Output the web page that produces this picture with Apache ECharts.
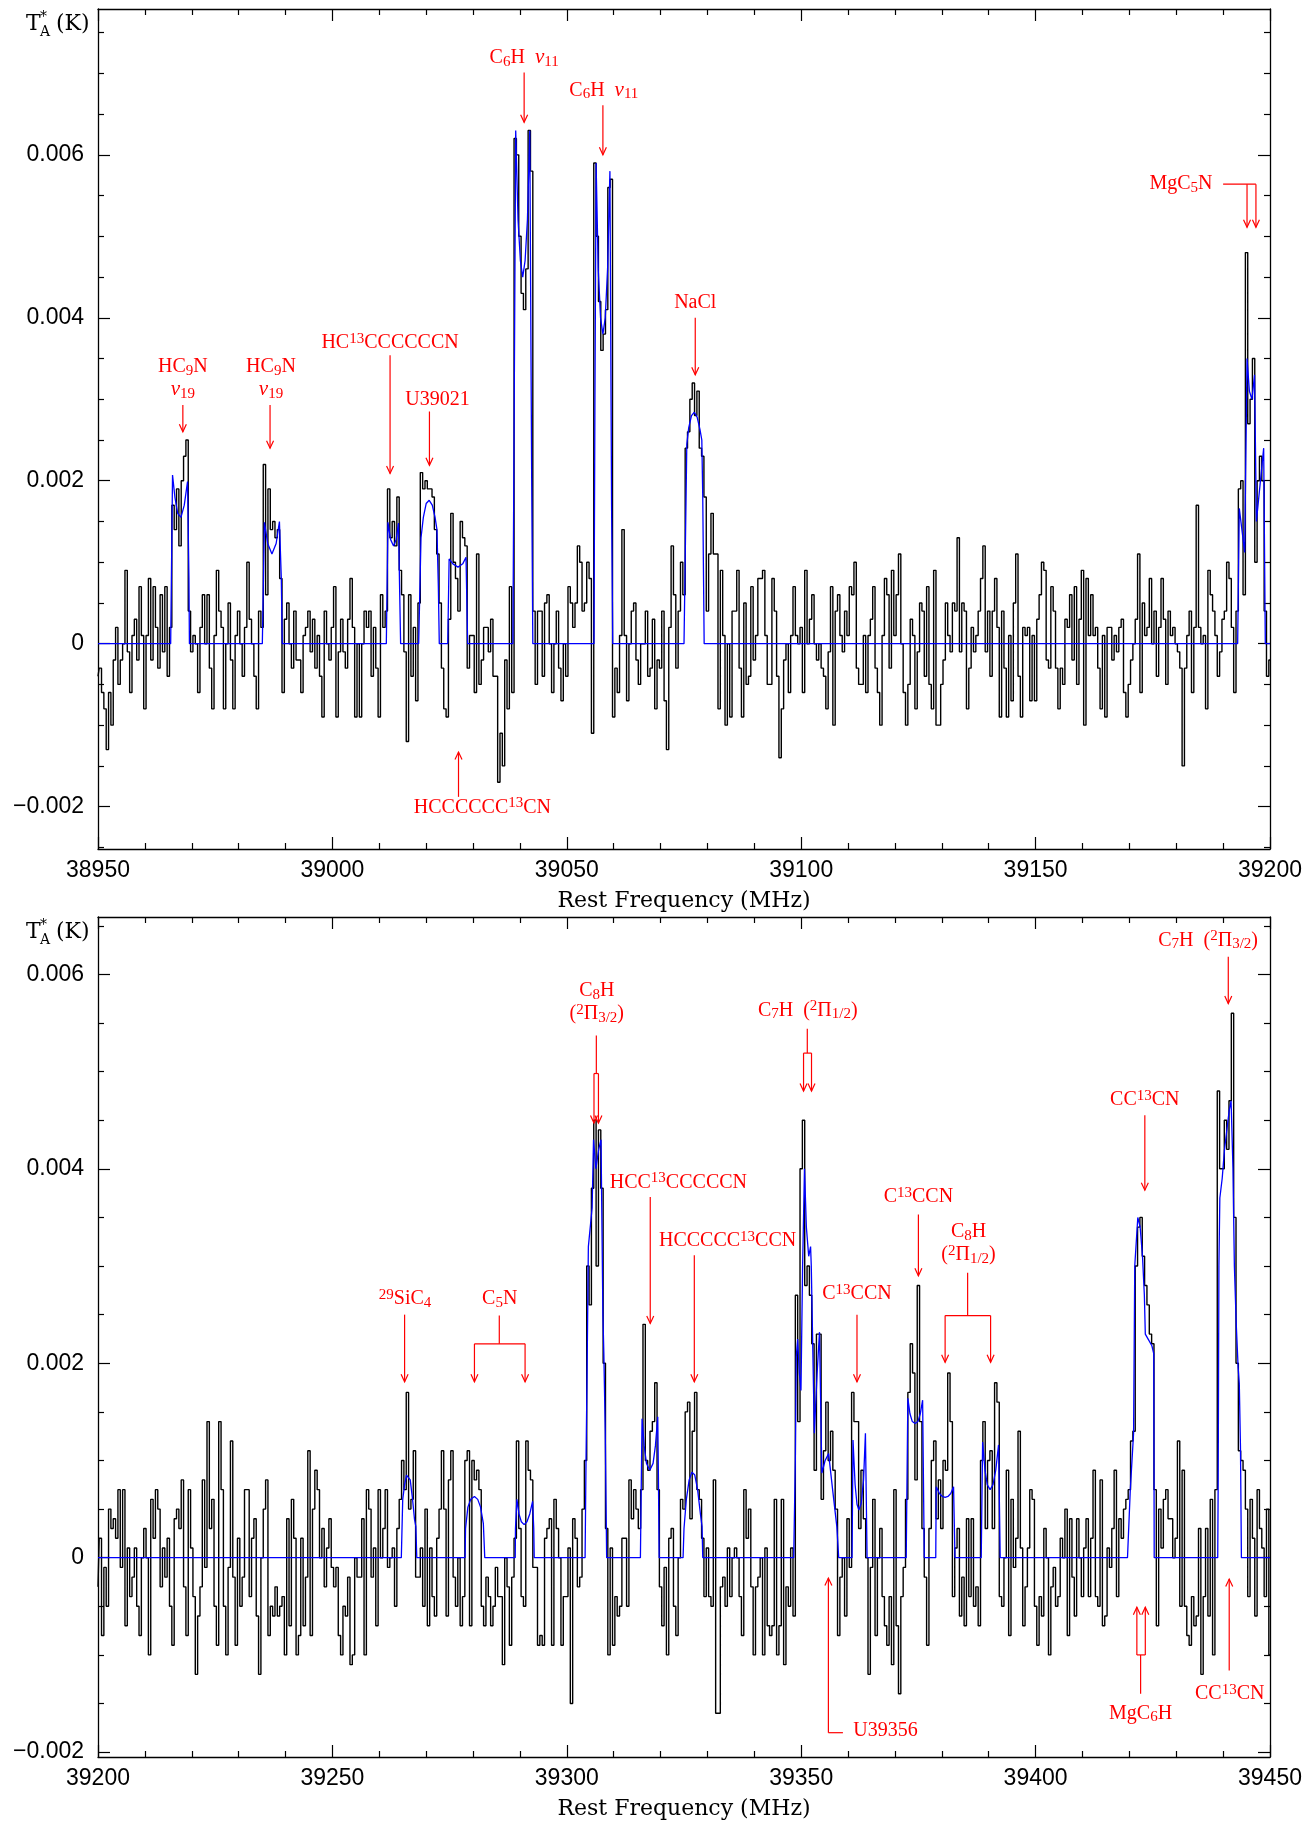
<!DOCTYPE html>
<html>
<head>
<meta charset="utf-8">
<title>Rest frequency spectrum 38950-39450 MHz</title>
<script src="https://cdn.jsdelivr.net/npm/echarts@6/dist/echarts.min.js"></script>
<style>
  html, body { margin: 0; padding: 0; background: #fff; }
  #chart { width: 1314px; height: 1825px; }
</style>
</head>
<body>
<div id="chart"></div>
<script>
// ---- data -------------------------------------------------------------
// observed channels, 0.5 MHz apart, values in units of 0.1 mK
const channelWidth = 0.5;
const topStart = 38950;
const bottomStart = 39200;

const topSpectrum = [
  -4,-3,-6,-8,-13,-6,-10,-2,2,-5,   -2,0,9,-1,-6,1,3,-2,7,1,
  -8,1,8,-2,7,2,-3,6,-1,7,          -4,2,17,14,19,12,20,23,25,4,
  -1,1,0,-6,2,6,0,6,-3,-8,          1,9,4,2,-8,0,5,-2,-8,1,
  4,0,-4,2,10,3,0,-4,-8,4,          2,22,6,19,14,15,13,14,8,-6,
  3,5,0,-3,4,-2,-2,-6,1,2,          4,-1,3,-3,1,-4,-9,4,0,-2,
  2,7,-9,-1,3,-1,-3,3,8,2,          -9,0,-9,0,4,2,4,-4,2,-3,
  -9,6,2,4,19,13,15,12,18,9,        6,-1,-12,6,-4,2,-7,5,21,19,
  20,19,19,18,14,11,5,-3,-8,-9,     3,16,10,8,4,15,13,12,-3,1,
  1,-6,11,-5,-2,2,2,-1,3,-4,        -4,-17,-11,-15,-2,-8,7,-6,62,60,
  50,43,41,46,63,58,4,-5,4,4,       -4,5,6,0,-6,0,4,-3,-7,0,
  -4,7,5,2,5,12,10,4,5,10,          8,-11,59,50,42,36,38,41,56,57,
  -9,-3,-6,1,14,1,-7,0,4,5,         -2,-5,0,0,4,-4,-3,3,-8,-2,
  -3,4,-7,-13,2,12,6,-3,4,10,       6,24,26,30,32,28,31,24,23,18,
  4,11,16,11,11,-8,9,1,-10,0,       -9,4,4,9,-3,-9,5,-5,-4,7,
  -2,1,8,8,9,1,-5,-5,8,4,           -4,-14,-8,-2,0,-6,1,7,1,0,
  2,-6,9,0,3,6,0,-2,0,-3,           -4,-8,-1,7,-10,4,6,1,-1,4,
  1,7,6,10,-3,-5,-5,1,-6,1,         3,7,-3,-6,-10,1,8,6,-3,9,
  1,6,11,0,-6,-10,-5,3,1,-8,        -1,5,4,-4,7,-5,-8,9,-10,-10,
  -5,-2,5,1,-1,5,4,13,-1,5,         4,-8,-3,2,-1,1,4,8,12,-1,
  4,-4,4,8,2,-9,4,-3,-9,1,          -7,5,11,-4,-9,2,1,2,-7,1,
  -7,3,6,10,9,-2,-3,7,4,-3,         -8,-3,-5,3,2,6,-2,7,-5,3,
  9,-10,8,1,6,1,2,-3,-8,1,          -9,2,2,-2,1,-1,2,3,-6,-9,
  -5,-2,0,3,11,-6,5,1,2,8,          0,4,-4,2,8,3,-5,4,1,2,
  0,-1,-3,-15,-3,1,4,-6,2,17,       2,0,1,-8,9,6,4,1,-4,-1,
  3,4,10,8,2,-6,4,19,20,6,          48,27,30,35,10,20,23,20,4,-4,-2
];

const bottomSpectrum = [
  -3,2,-8,-1,-5,5,3,4,2,7,          -1,7,-7,1,-4,-2,1,-5,-8,0,
  3,0,-10,6,2,7,5,-3,1,-2,          2,-5,-9,4,5,3,8,-3,-8,7,
  1,-4,-12,-6,-3,8,-1,14,3,6,       -5,-9,14,7,-5,-10,-1,12,-2,-9,
  2,-5,-2,7,7,-4,2,4,-6,-12,        0,5,8,-8,-5,-6,-3,-6,-5,-4,
  -10,4,-7,6,2,-10,-8,2,-7,-2,      11,-8,5,9,7,0,3,-3,1,4,
  -1,-3,-1,-8,-10,-5,-6,-2,-11,-10, 0,-2,-2,4,-10,7,5,-2,1,-7,
  7,0,3,7,-1,0,1,-5,3,6,            10,7,17,5,6,11,-2,-2,1,-5,
  5,-7,1,-4,-6,2,5,11,5,-6,         8,11,-2,-5,0,-7,-4,10,11,-7,
  10,8,9,7,-5,-7,-2,-4,-7,-5,       -1,-4,-4,-11,0,-3,-9,-2,2,12,
  3,-4,-5,12,9,8,-1,-1,-9,-8,       -9,2,3,4,-9,6,3,0,-9,-4,
  -4,1,-15,4,2,-3,-2,5,10,30,       26,38,45,30,44,38,20,3,-10,1,
  -9,-4,-6,-5,2,2,-5,8,4,7,         5,3,7,24,10,9,13,14,18,7,
  -3,-7,-1,-10,2,3,-5,-8,0,6,       5,15,16,4,13,17,7,6,2,-4,
  1,-4,-5,8,-16,-16,-3,-2,-5,1,     -4,0,1,0,-4,-8,7,2,5,-3,
  -10,-3,-2,0,-10,1,-7,-8,-7,6,     -10,-7,6,-11,-3,-5,1,-6,27,14,
  40,45,28,30,27,22,9,23,23,6,      11,16,10,13,9,5,-8,-2,0,-6,
  4,-1,17,14,14,3,9,4,0,-12,        -1,6,-8,0,3,-4,-7,-9,-4,-11,
  7,-7,-14,-4,-1,6,17,22,19,8,      28,14,3,-2,-9,3,10,12,4,8,
  3,10,9,19,14,-4,1,3,-6,-2,        -7,4,-4,4,-5,-3,-7,10,14,3,
  10,11,3,18,16,-4,-5,0,9,-8,       6,-1,2,13,1,-7,-3,1,7,6,
  -5,-9,-4,-6,3,0,-10,-3,-1,-5,     -4,2,0,5,-8,4,-2,-6,4,0,
  -4,1,4,-4,2,9,-4,-5,8,-7,         -6,1,-1,3,9,-4,4,2,5,6,
  7,12,13,30,34,35,31,28,26,23,     22,7,-7,5,1,6,7,4,4,0,
  2,12,-5,9,-5,-8,-9,-4,-7,-6,      3,-12,-4,3,-6,6,-10,7,48,40,
  40,45,42,47,56,35,20,11,10,9,     5,-4,6,2,-6,7,3,1,-4,5,-10
];

// fitted model (blue), [MHz, K]
const topModel = [
  [38950,0],[38965.5,0],[38965.9,0.00207],[38966.4,0.0018],[38967.0,0.0016],[38967.7,0.00155],
  [38968.4,0.0017],[38969.1,0.00199],[38969.4,0.0008],[38969.5,0],
  [38985.05,0],[38985.5,0.00149],[38986.2,0.00123],[38987.1,0.0011],[38988.0,0.00123],
  [38988.7,0.0015],[38989.1,0.0008],[38989.3,0],
  [39011.5,0],[39011.85,0.00149],[39012.4,0.00128],[39013.05,0.0012],[39013.6,0.00128],
  [39014.1,0.00148],[39014.3,0.0008],[39014.55,0],
  [39018.4,0],[39018.9,0.0013],[39019.4,0.00155],[39020.0,0.00172],[39020.65,0.00176],
  [39021.3,0.0017],[39021.9,0.00155],[39022.3,0.0014],[39022.6,0.0007],[39022.8,0],
  [39024.6,0],[39024.9,0.00104],[39025.7,0.00098],[39026.8,0.00094],[39027.8,0.00098],
  [39028.5,0.00106],[39028.85,0],
  [39038.5,0],[39038.75,0.0026],[39039.1,0.0063],[39039.6,0.0052],[39040.1,0.0047],
  [39040.6,0.0045],[39041.1,0.0047],[39041.6,0.0052],[39042.1,0.0063],[39042.5,0.0021],[39042.75,0],
  [39055.8,0],[39056.0,0.0030],[39056.25,0.0059],[39056.7,0.0046],[39057.2,0.0040],
  [39057.7,0.0038],[39058.2,0.0040],[39058.7,0.0046],[39059.2,0.0058],[39059.55,0.0017],[39059.8,0],
  [39075.0,0],[39075.6,0.00245],[39076.0,0.00265],[39076.6,0.0028],[39077.2,0.00284],
  [39077.8,0.00278],[39078.4,0.00263],[39078.8,0.0025],[39079.0,0.0018],[39079.3,0],
  [39193.1,0],[39193.45,0.00166],[39194.6,0.00112],[39195.1,0.0035],[39195.6,0.0031],
  [39196.15,0.0030],[39196.7,0.0033],[39197.1,0.0015],[39198.65,0.0024],[39199.0,0],[39200,0]
];

const bottomModel = [
  [39200,0],[39264.7,0],[39265.0,0.0006],[39265.4,0.00075],[39265.8,0.00085],[39266.1,0.00087],
  [39266.6,0.0008],[39267.1,0.0006],[39267.5,0.0004],[39267.8,0.00032],[39268.0,0],
  [39278.3,0],[39278.4,0.0003],[39278.9,0.00052],[39279.5,0.0006],[39280.3,0.00063],
  [39281.0,0.0006],[39281.6,0.00052],[39282.2,0.00035],[39282.5,0],
  [39289.0,0],[39289.05,0.0003],[39289.35,0.0006],[39289.8,0.00045],[39290.3,0.00037],
  [39290.9,0.00034],[39291.5,0.00037],[39292.1,0.00045],[39292.7,0.00058],[39292.95,0.0003],[39293.05,0],
  [39303.9,0],[39304.1,0.0010],[39304.3,0.0018],[39304.6,0.0032],[39305.0,0.0032],
  [39305.4,0.0036],[39305.7,0.0043],[39306.2,0.0040],[39306.8,0.0042],[39307.3,0.0043],
  [39307.7,0.0025],[39307.9,0.0021],[39308.2,0.0013],[39308.5,0],
  [39315.7,0],[39316.05,0.00143],[39316.5,0.00115],[39317.0,0.00097],[39317.7,0.0009],
  [39318.4,0.00097],[39318.9,0.00115],[39319.4,0.00145],[39319.55,0.0008],[39319.7,0],
  [39324.8,0],[39325.0,0.0003],[39325.5,0.0006],[39326.1,0.0008],[39326.7,0.00088],
  [39327.3,0.00085],[39327.9,0.0007],[39328.5,0.00045],[39328.85,0.00032],[39329.0,0],
  [39348.4,0],[39348.75,0.0010],[39348.95,0.00207],[39349.25,0.00225],[39349.6,0.0019],
  [39349.95,0.00172],[39350.3,0.0030],[39350.7,0.0040],[39351.1,0.0034],[39351.6,0.0031],
  [39352.0,0.0032],[39352.15,0.0030],[39352.8,0.00128],[39353.4,0.0019],[39353.9,0.00232],
  [39354.4,0.00087],[39355.1,0.0010],[39355.85,0.00107],[39356.7,0.0007],[39357.6,0.00032],[39358.0,0],
  [39360.85,0],[39361.05,0.00121],[39361.5,0.00075],[39361.9,0.00055],[39362.3,0.00049],
  [39362.8,0.00056],[39363.3,0.0008],[39363.7,0.00128],[39364.05,0],
  [39372.4,0],[39372.75,0.00164],[39373.2,0.00148],[39373.7,0.0014],[39374.3,0.00138],
  [39374.9,0.0014],[39375.4,0.00148],[39375.9,0.00162],[39376.25,0],
  [39378.7,0],[39378.8,0.00073],[39379.5,0.00066],[39380.1,0.00063],[39380.7,0.00062],
  [39381.3,0.00063],[39381.9,0.00066],[39382.5,0.00073],[39382.8,0],
  [39388.4,0],[39388.7,0.00119],[39389.2,0.0009],[39389.7,0.00075],[39390.3,0.0007],
  [39390.9,0.00075],[39391.5,0.0009],[39392.1,0.00116],[39392.45,0],
  [39419.6,0],[39420.2,0.0007],[39420.9,0.00128],[39421.15,0.0030],[39421.8,0.0035],
  [39422.3,0.0034],[39422.8,0.0031],[39423.2,0.0027],[39423.4,0.0023],[39424.1,0.00224],
  [39424.8,0.00218],[39425.2,0.0021],[39425.3,0],
  [39438.85,0],[39438.95,0.0008],[39439.1,0.0030],[39439.3,0.0037],[39439.8,0.0039],
  [39440.3,0.0042],[39440.8,0.0044],[39441.3,0.0046],[39441.7,0.0047],[39442.1,0.0040],
  [39442.4,0.0030],[39442.8,0.0024],[39443.2,0.00196],[39443.45,0.00179],[39443.7,0.00114],
  [39443.9,0],[39450,0]
];

// axis ticks
const yMajorTicks = [-0.002, 0, 0.002, 0.004, 0.006];
const topMinorTicks = [-0.0025,-0.0015,-0.001,-0.0005,0.0005,0.001,0.0015,0.0025,0.003,
  0.0035,0.0045,0.005,0.0055,0.0065,0.007,0.0075];
const bottomMinorTicks = [-0.0015,-0.001,-0.0005,0.0005,0.001,0.0015,0.0025,0.003,
  0.0035,0.0045,0.005,0.0055,0.0065];

// line identifications: [text, MHz, K, align]
const topLabels = [
  ['{n|HC}{b|9}{n|N}\n{i|ν}{b|19}', 38968.1, 0.00326],
  ['{n|HC}{b|9}{n|N}\n{i|ν}{b|19}', 38986.9, 0.00326],
  ['{n|HC}{p|13}{n|CCCCCCN}', 39012.3, 0.00369],
  ['{n|U39021}', 39022.4, 0.00299],
  ['{n|HCCCCCC}{p|13}{n|CN}', 39032.0, -0.00201],
  ['{n|C}{b|6}{n|H  }{i|ν}{b|11}', 39040.9, 0.00719],
  ['{n|C}{b|6}{n|H  }{i|ν}{b|11}', 39057.9, 0.00679],
  ['{n|NaCl}', 39077.4, 0.00419],
  ['{n|MgC}{b|5}{n|N}', 39181.0, 0.00564]
];
const topArrows = [
  [[38968.1, 0.00293], [38968.1, 0.0026]],
  [[38986.7, 0.00293], [38986.7, 0.0024]],
  [[39012.3, 0.00354], [39012.3, 0.00209]],
  [[39020.7, 0.00285], [39020.7, 0.00219]],
  [[39026.9, -0.00188], [39026.9, -0.00133]],
  [[39040.9, 0.00701], [39040.9, 0.0064]],
  [[39057.7, 0.00661], [39057.7, 0.0060]],
  [[39077.4, 0.0040], [39077.4, 0.0033]],
  [[39195.1, 0.00564], [39195.1, 0.00511]],
  [[39197.0, 0.00564], [39197.0, 0.00511]]
];
const topLines = [
  [[39190.0, 0.00564], [39197.0, 0.00564]]
];

const bottomLabels = [
  ['{p|29}{n|SiC}{b|4}', 39265.5, 0.00266],
  ['{n|C}{b|5}{n|N}', 39285.7, 0.00266],
  ['{n|C}{b|8}{n|H}\n{n|(}{p|2}{n|Π}{b|3/2}{n|)}', 39306.4, 0.00571],
  ['{n|HCC}{p|13}{n|CCCCCN}', 39323.8, 0.00386],
  ['{n|HCCCCC}{p|13}{n|CCN}', 39334.3, 0.00326],
  ['{n|C}{b|7}{n|H  (}{p|2}{n|Π}{b|1/2}{n|)}', 39351.4, 0.00563],
  ['{n|C}{p|13}{n|CCN}', 39361.9, 0.00271],
  ['{n|C}{p|13}{n|CCN}', 39375.0, 0.00371],
  ['{n|C}{b|8}{n|H}\n{n|(}{p|2}{n|Π}{b|1/2}{n|)}', 39385.7, 0.00323],
  ['{n|CC}{p|13}{n|CN}', 39423.3, 0.00471],
  ['{n|C}{b|7}{n|H  (}{p|2}{n|Π}{b|3/2}{n|)}', 39436.8, 0.00635],
  ['{n|U39356}', 39361.1, -0.00178, 'left'],
  ['{n|MgC}{b|6}{n|H}', 39422.4, -0.0016],
  ['{n|CC}{p|13}{n|CN}', 39441.4, -0.0014]
];
const bottomArrows = [
  [[39265.4, 0.0025], [39265.4, 0.00181]],
  [[39280.3, 0.0022], [39280.3, 0.00181]],
  [[39291.1, 0.0022], [39291.1, 0.00181]],
  [[39305.8, 0.00498], [39305.8, 0.00447]],
  [[39306.75, 0.00498], [39306.75, 0.00447]],
  [[39317.8, 0.00371], [39317.8, 0.00241]],
  [[39327.2, 0.00311], [39327.2, 0.00181]],
  [[39350.5, 0.00519], [39350.5, 0.0048]],
  [[39352.2, 0.00519], [39352.2, 0.0048]],
  [[39361.9, 0.0025], [39361.9, 0.00181]],
  [[39375.0, 0.00353], [39375.0, 0.0029]],
  [[39380.7, 0.00249], [39380.7, 0.00201]],
  [[39390.4, 0.00249], [39390.4, 0.00201]],
  [[39423.3, 0.00455], [39423.3, 0.00378]],
  [[39441.1, 0.00618], [39441.1, 0.0057]],
  [[39355.8, -0.0018], [39355.8, -0.00021]],
  [[39421.6, -0.001], [39421.6, -0.00051]],
  [[39423.4, -0.001], [39423.4, -0.00051]],
  [[39441.3, -0.00116], [39441.3, -0.00022]]
];
const bottomLines = [
  [[39285.6, 0.00249], [39285.6, 0.0022]],
  [[39280.3, 0.0022], [39291.1, 0.0022]],
  [[39306.3, 0.00537], [39306.3, 0.00498]],
  [[39305.8, 0.00498], [39306.75, 0.00498]],
  [[39351.3, 0.00544], [39351.3, 0.00519]],
  [[39350.5, 0.00519], [39352.2, 0.00519]],
  [[39385.5, 0.00293], [39385.5, 0.00249]],
  [[39380.7, 0.00249], [39390.4, 0.00249]],
  [[39358.9, -0.0018], [39355.8, -0.0018]],
  [[39422.4, -0.0014], [39422.4, -0.001]],
  [[39421.6, -0.001], [39423.4, -0.001]]
];

// ---- styling ----------------------------------------------------------
const RED = '#ff0000';
const SERIF = 'Liberation Serif';
const TITLE_FONT = 'DejaVu Serif';
const NUM_FONT = 'Liberation Sans';

const RICH = {
  n: { fontFamily: SERIF, fontSize: 20, lineHeight: 23, fill: RED },
  i: { fontFamily: SERIF, fontSize: 21, lineHeight: 23, fill: RED, fontStyle: 'italic' },
  b: { fontFamily: SERIF, fontSize: 15, lineHeight: 8, fill: RED, verticalAlign: 'bottom' },
  p: { fontFamily: SERIF, fontSize: 15, lineHeight: 8, fill: RED, verticalAlign: 'top' }
};

const grids = [
  { left: 98, top: 9, width: 1172, height: 840 },
  { left: 98, top: 917, width: 1172, height: 840 }
];
const yRanges = [
  { min: -0.00252, max: 0.00779 },
  { min: -0.00205, max: 0.00659 }
];
const xRanges = [
  { min: 38950, max: 39200 },
  { min: 39200, max: 39450 }
];

function formatY(v) {
  if (Math.abs(v) < 1e-9) return '0';
  return (v < 0 ? '\u2212' : '') + Math.abs(v).toFixed(3);
}

function toChannels(start, values) {
  return values.map((v, i) => [start + i * channelWidth, v * 1e-4]);
}

function buildXAxes(g) {
  const base = {
    gridIndex: g,
    type: 'value',
    min: xRanges[g].min,
    max: xRanges[g].max,
    interval: 50,
    splitLine: { show: false },
    axisLine: { show: true, onZero: false, lineStyle: { color: '#000', width: 1.3 } },
    axisTick: { show: true, inside: true, length: 12, lineStyle: { color: '#000', width: 1.2 } },
    minorTick: { show: true, splitNumber: 5, length: 6, lineStyle: { color: '#000', width: 1.2 } }
  };
  return [
    Object.assign({}, base, {
      position: 'bottom',
      name: 'Rest Frequency (MHz)',
      nameLocation: 'middle',
      nameGap: 41,
      nameTextStyle: { fontFamily: TITLE_FONT, fontSize: 22, color: '#000' },
      axisLabel: {
        show: true, margin: 10, showMinLabel: true, showMaxLabel: true,
        fontFamily: NUM_FONT, fontSize: 23, color: '#000',
        formatter: v => String(v)
      }
    }),
    Object.assign({}, base, { position: 'top', axisLabel: { show: false } })
  ];
}

function buildYAxes(g, minorTicks) {
  const base = {
    gridIndex: g,
    type: 'value',
    min: yRanges[g].min,
    max: yRanges[g].max,
    splitLine: { show: false },
    axisLine: { show: false }
  };
  const major = (pos, labels) => Object.assign({}, base, {
    position: pos,
    axisLine: { show: true, onZero: false, lineStyle: { color: '#000', width: 1.3 } },
    axisTick: { show: true, inside: true, length: 12, customValues: yMajorTicks,
      lineStyle: { color: '#000', width: 1.2 } },
    axisLabel: labels ? {
      show: true, margin: 14, customValues: yMajorTicks,
      fontFamily: NUM_FONT, fontSize: 23, color: '#000', formatter: formatY
    } : { show: false }
  });
  const minor = pos => Object.assign({}, base, {
    position: pos,
    axisTick: { show: true, inside: true, length: 6, customValues: minorTicks,
      lineStyle: { color: '#000', width: 1.2 } },
    axisLabel: { show: false }
  });
  return [major('left', true), minor('left'), major('right', false), minor('right')];
}

function annotationSeries(xIdx, yIdx, labels, arrows, lines) {
  return {
    type: 'custom',
    xAxisIndex: xIdx,
    yAxisIndex: yIdx,
    silent: true,
    clip: false,
    z: 10,
    data: [[labels[0][1], labels[0][2]]],
    renderItem: (params, api) => {
      const children = [];
      const stroke = { stroke: RED, lineWidth: 1.2, fill: null };
      lines.forEach(l => {
        children.push({ type: 'polyline', shape: { points: l.map(p => api.coord(p)) }, style: stroke });
      });
      arrows.forEach(a => {
        const p0 = api.coord(a[0]);
        const p1 = api.coord(a[1]);
        const d = p1[1] > p0[1] ? 1 : -1;
        children.push({ type: 'polyline', shape: { points: [p0, p1] }, style: stroke });
        children.push({
          type: 'polyline',
          shape: { points: [[p1[0] - 3.5, p1[1] - d * 7.5], p1, [p1[0] + 3.5, p1[1] - d * 7.5]] },
          style: stroke
        });
      });
      labels.forEach(lb => {
        const p = api.coord([lb[1], lb[2]]);
        children.push({
          type: 'text', x: p[0], y: p[1],
          style: {
            text: lb[0], rich: RICH, fill: RED, fontFamily: SERIF, fontSize: 20,
            align: lb[3] || 'center', verticalAlign: 'middle'
          }
        });
      });
      return { type: 'group', children: children };
    }
  };
}

// T*A (K) title drawn as separate pieces so * and A stack
function yTitle(top) {
  const piece = (text, x, y, size) => ({
    type: 'text', x: x, y: y, silent: true,
    style: { text: text, fill: '#000', fontFamily: TITLE_FONT, fontSize: size, verticalAlign: 'middle' }
  });
  return [
    piece('T', 26, top, 22),
    piece('*', 40, top - 7, 14),
    piece('A', 40, top + 8, 14),
    piece('(K)', 56, top, 22)
  ];
}

const chart = echarts.init(document.getElementById('chart'));

const spectrumStyle = { color: '#000', width: 1.4 };
const modelStyle = { color: '#0000ff', width: 1.3 };

chart.setOption({
  animation: false,
  backgroundColor: '#fff',
  grid: grids,
  xAxis: buildXAxes(0).concat(buildXAxes(1)),
  yAxis: buildYAxes(0, topMinorTicks).concat(buildYAxes(1, bottomMinorTicks)),
  graphic: yTitle(24).concat(yTitle(932)),
  series: [
    {
      name: 'observed-top', type: 'line', xAxisIndex: 0, yAxisIndex: 0,
      step: 'middle', symbol: 'none', z: 2,
      lineStyle: spectrumStyle, data: toChannels(topStart, topSpectrum)
    },
    {
      name: 'model-top', type: 'line', xAxisIndex: 0, yAxisIndex: 0,
      symbol: 'none', z: 3, lineStyle: modelStyle, data: topModel
    },
    annotationSeries(0, 0, topLabels, topArrows, topLines),
    {
      name: 'observed-bottom', type: 'line', xAxisIndex: 2, yAxisIndex: 4,
      step: 'middle', symbol: 'none', z: 2,
      lineStyle: spectrumStyle, data: toChannels(bottomStart, bottomSpectrum)
    },
    {
      name: 'model-bottom', type: 'line', xAxisIndex: 2, yAxisIndex: 4,
      symbol: 'none', z: 3, lineStyle: modelStyle, data: bottomModel
    },
    annotationSeries(2, 4, bottomLabels, bottomArrows, bottomLines)
  ]
});
</script>
</body>
</html>
